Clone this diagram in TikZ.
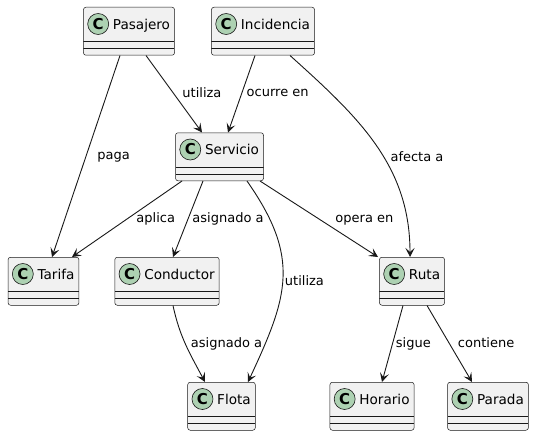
\documentclass[tikz,border=0pt]{standalone}
\usepackage{fontspec}
\setmainfont{DejaVu Sans}
\usetikzlibrary{arrows.meta}
\definecolor{linec}{HTML}{181818}
\definecolor{boxc}{HTML}{F1F1F1}
\definecolor{spotc}{HTML}{ADD1B2}

\begin{document}
\begin{tikzpicture}[->,>={Stealth[length=9pt,width=9pt,inset=4pt]},x=1pt,y=1pt]
\tikzstyle{every edge}=[draw=linec,line width=.9pt]
\tikzstyle{cls}=[draw=linec,fill=boxc,line width=.5pt,rounded corners=2.5pt,anchor=north,
  inner xsep=4.5pt,inner ysep=0pt,text height=22pt,text depth=26pt,font=\fontsize{13.6}{16}\selectfont,
  path picture={\draw[-,linec,line width=.5pt]
    ([yshift=-34pt]path picture bounding box.north west) -- ([yshift=-34pt]path picture bounding box.north east)
    ([yshift=-41pt]path picture bounding box.north west) -- ([yshift=-41pt]path picture bounding box.north east);}]
\tikzstyle{spot}=[circle,draw=linec,fill=spotc,line width=.6pt,minimum size=21pt,inner sep=0pt,
  font=\fontsize{15}{15}\selectfont\bfseries]
\tikzstyle{lbl}=[anchor=west,inner sep=0pt,text height=9.5pt,text depth=2.5pt,font=\fontsize{13}{15}\selectfont]
\useasboundingbox (0,0) rectangle (535,-436);

% classes
\node[cls] (Pasajero) at (129,-7) {\hspace*{25pt}Pasajero};
\node[cls] (Incidencia) at (263,-7) {\hspace*{25pt}Incidencia};
\node[cls] (Servicio) at (219.5,-132.5) {\hspace*{25pt}Servicio};
\node[cls] (Tarifa) at (43.5,-257) {\hspace*{25pt}Tarifa};
\node[cls] (Conductor) at (167,-257) {\hspace*{25pt}Conductor};
\node[cls] (Ruta) at (412,-257) {\hspace*{25pt}Ruta};
\node[cls] (Flota) at (221.5,-382) {\hspace*{25pt}Flota};
\node[cls] (Horario) at (372,-382) {\hspace*{25pt}Horario};
\node[cls] (Parada) at (488,-382) {\hspace*{25pt}Parada};

% class spots
\foreach \c in {Pasajero,Incidencia,Servicio,Tarifa,Conductor,Ruta,Flota,Horario,Parada}
  \node[spot] (\c spot) at ([xshift=15pt,yshift=-17pt]\c.north west) {C};

% associations
\path ([xshift=17pt]Pasajero.south) edge node[lbl,pos=.5,xshift=8pt]{utiliza} ([xshift=-17.5pt]Servicio.north)
      ([xshift=-9pt]Pasajero.south) edge node[lbl,pos=.5,xshift=11pt]{paga} ([xshift=8.5pt]Tarifa.north)
      ([xshift=-8pt]Incidencia.south) edge node[lbl,pos=.49,xshift=4.5pt]{ocurre en} ([xshift=8.5pt]Servicio.north)
      ([xshift=27pt]Incidencia.south) edge[out=-42,in=90] node[lbl,pos=.57,xshift=6pt]{afecta a} ([xshift=-2pt]Ruta.north)
      ([xshift=-37.5pt]Servicio.south) edge node[lbl,pos=.5,xshift=9pt]{aplica} ([xshift=28.5pt]Tarifa.north)
      ([xshift=-16.5pt]Servicio.south) edge node[lbl,pos=.5,xshift=4pt]{asignado a} ([xshift=6pt]Conductor.north)
      ([xshift=27.5pt]Servicio.south) edge[out=-55,in=65,looseness=1.2] node[lbl,pos=.52,xshift=2pt]{utiliza} ([xshift=26.5pt]Flota.north)
      ([xshift=40.5pt]Servicio.south) edge node[lbl,pos=.5,xshift=16pt]{opera en} ([xshift=-34pt]Ruta.north)
      ([xshift=6pt]Conductor.south) edge[out=-78,in=118] node[lbl,pos=.49,xshift=5pt]{asignado a} ([xshift=-16.5pt]Flota.north)
      ([xshift=-9pt]Ruta.south) edge node[lbl,pos=.5,xshift=3pt]{sigue} ([xshift=10pt]Horario.north)
      ([xshift=15pt]Ruta.south) edge node[lbl,pos=.5,xshift=8pt]{contiene} ([xshift=-16pt]Parada.north);
\end{tikzpicture}
\end{document}
